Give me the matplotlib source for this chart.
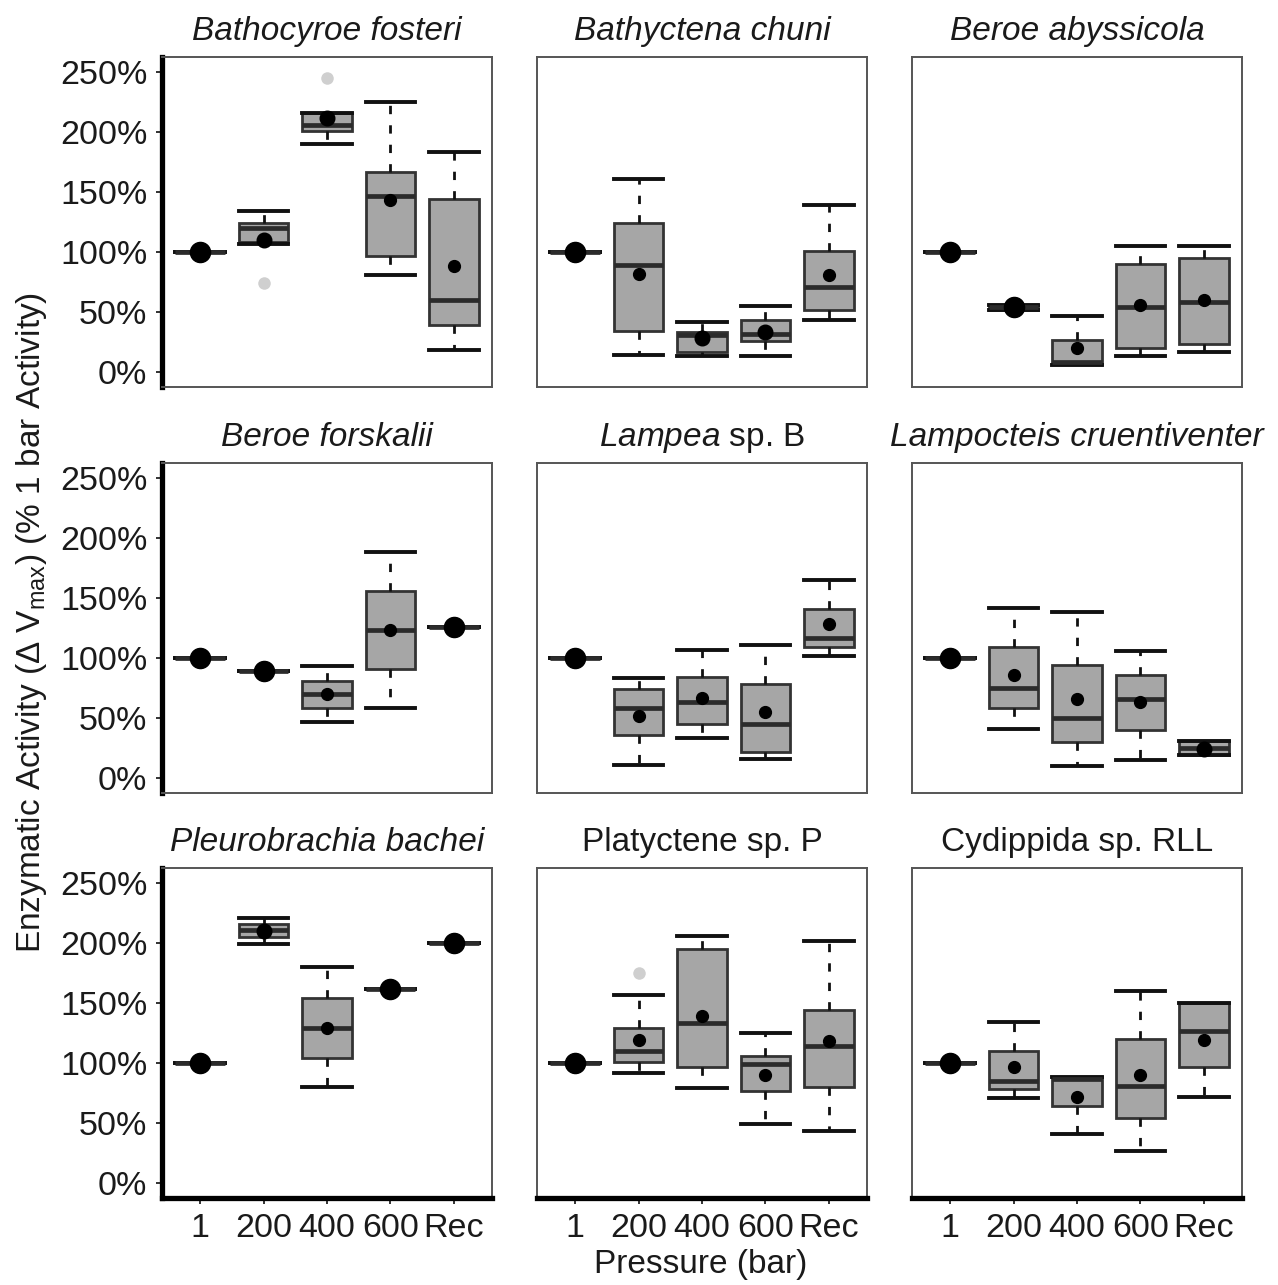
import matplotlib
matplotlib.use('Agg')
import matplotlib.pyplot as plt
from matplotlib.ticker import FuncFormatter

plt.rcParams['font.family'] = ['Liberation Sans', 'DejaVu Sans']
plt.rcParams['mathtext.fontset'] = 'custom'
plt.rcParams['mathtext.rm'] = 'Liberation Sans'
plt.rcParams['mathtext.it'] = 'Liberation Sans:italic'
plt.rcParams['mathtext.default'] = 'regular'

# ---------------- data ----------------
species = ['Bathocyroe fosteri', 'Bathyctena chuni', 'Beroe abyssicola',
           'Beroe forskalii', r'$\mathit{Lampea}$ sp. B', 'Lampocteis cruentiventer',
           'Pleurobrachia bachei', 'Platyctene sp. P', 'Cydippida sp. RLL']
italic = [True, True, True, True, False, True, True, False, False]
pressures = ['1', '200', '400', '600', 'Rec']

whislo = [[100, 107, 190, 81, 18],
          [100, 14, 13, 13, 43],
          [100, 52, 6, 13, 17],
          [100, 89, 47, 58, 126],
          [100, 11, 33, 16, 102],
          [100, 41, 10, 15, 19],
          [100, 199, 80, 162, 200],
          [100, 92, 79, 49, 43],
          [100, 71, 41, 27, 72]]
q1 = [[100, 108, 201, 97, 39],
      [100, 34, 17, 26, 52],
      [100, 52, 7, 20, 23],
      [100, 89, 58, 91, 126],
      [100, 36, 45, 22, 109],
      [100, 58, 30, 40, 19],
      [100, 205, 104, 162, 200],
      [100, 101, 97, 77, 80],
      [100, 78, 64, 54, 97]]
med = [[100, 120, 206, 147, 60],
       [100, 89, 31, 32, 71],
       [100, 54, 8, 54, 58],
       [100, 89, 70, 123, 126],
       [100, 58, 63, 45, 117],
       [100, 75, 50, 66, 25],
       [100, 211, 129, 162, 200],
       [100, 110, 133, 99, 114],
       [100, 85, 87, 81, 127]]
q3 = [[100, 124, 216, 167, 144],
      [100, 124, 33, 43, 101],
      [100, 56, 27, 90, 95],
      [100, 89, 81, 156, 126],
      [100, 74, 84, 78, 141],
      [100, 109, 94, 86, 31],
      [100, 216, 154, 162, 200],
      [100, 129, 195, 106, 144],
      [100, 110, 88, 120, 150]]
whishi = [[100, 134, 216, 225, 183],
          [100, 161, 42, 55, 139],
          [100, 56, 47, 105, 105],
          [100, 89, 93, 188, 126],
          [100, 83, 107, 111, 165],
          [100, 142, 138, 106, 31],
          [100, 221, 180, 162, 200],
          [100, 157, 206, 125, 202],
          [100, 134, 88, 160, 150]]
means = [[100, 110, 212, 143, 88],
         [100, 82, 28, 33, 81],
         [100, 54, 20, 56, 60],
         [100, 89, 70, 123, 126],
         [100, 52, 67, 55, 128],
         [100, 86, 66, 63, 24],
         [100, 210, 129, 162, 200],
         [100, 119, 139, 90, 118],
         [100, 97, 72, 90, 119]]
outliers = [[[], [74], [245], [], []],
            [[], [], [], [], []],
            [[], [], [], [], []],
            [[], [], [], [], []],
            [[], [], [], [], []],
            [[], [], [], [], []],
            [[], [], [], [], []],
            [[], [175], [], [], []],
            [[], [], [], [], []]]
yticks = [0, 50, 100, 150, 200, 250]

# ---------------- layout ----------------
W, H = 1278, 1285
fig = plt.figure(figsize=(W / 100, H / 100), dpi=100)
col_x = [162, 537, 912]
row_y = [57, 463, 868]
pw, ph = 330, 330

for i, sp in enumerate(species):
    r, c = divmod(i, 3)
    ax = fig.add_axes([col_x[c] / W, 1 - (row_y[r] + ph) / H, pw / W, ph / H])
    pos = list(range(1, len(pressures) + 1))
    stats = []
    for j in range(len(pressures)):
        stats.append(dict(whislo=whislo[i][j], q1=q1[i][j], med=med[i][j],
                          q3=q3[i][j], whishi=whishi[i][j], fliers=outliers[i][j]))
    ax.bxp(stats, positions=pos, widths=0.78, capwidths=0.78, patch_artist=True,
           showmeans=False,
           boxprops=dict(facecolor='#a6a6a6', edgecolor='#333333', linewidth=2.0),
           medianprops=dict(color='#2b2b2b', linewidth=3.4),
           whiskerprops=dict(color='#111111', linewidth=2.0, linestyle=(0, (3, 4))),
           capprops=dict(color='#111111', linewidth=2.8),
           flierprops=dict(marker='o', markerfacecolor='#cfcfcf',
                           markeredgecolor='none', markersize=9))
    for j, p in enumerate(pos):
        iqr = q3[i][j] - q1[i][j]
        ms = 14.5 if iqr < 5 else (10.5 if iqr < 20 else 8.5)
        ax.plot([p], [means[i][j]], 'o', color='black', markersize=ms, zorder=6)

    ax.set_xlim(0.4, 5.6)
    ax.set_ylim(-12.5, 262.5)
    ax.set_yticks(yticks)
    ax.set_xticks(pos)
    ax.set_xticklabels(pressures)
    ax.yaxis.set_major_formatter(FuncFormatter(lambda v, p: f'{v:.0f}%'))
    for s in ax.spines.values():
        s.set_color('#555555')
        s.set_linewidth(1.4)
    if c == 0:
        ax.spines['left'].set_color('black')
        ax.spines['left'].set_linewidth(3.8)
        ax.tick_params(axis='y', length=4.5, width=1.4, color='#333333',
                       labelsize=24.5, labelcolor='#1a1a1a', pad=6)
    else:
        ax.tick_params(axis='y', length=0, labelleft=False)
    if r == 2:
        ax.spines['bottom'].set_color('black')
        ax.spines['bottom'].set_linewidth(3.8)
        ax.tick_params(axis='x', length=4.5, width=1.4, color='#333333',
                       labelsize=24.5, labelcolor='#1a1a1a', pad=6)
    else:
        ax.tick_params(axis='x', length=0, labelbottom=False)

    ax.text(0.5, 1 + 17 / ph, sp, transform=ax.transAxes, ha='center', va='baseline',
            fontsize=24, color='#1a1a1a', fontstyle='italic' if italic[i] else 'normal')

fig.text(32 / W, 1 - 622 / H,
         r'Enzymatic Activity (Δ V$_{max}$) (% 1 bar Activity)',
         rotation=90, ha='center', va='center', fontsize=24, color='#1a1a1a')
fig.text(701 / W, 1 - 1265 / H, 'Pressure (bar)', ha='center', va='center',
         fontsize=24, color='#1a1a1a')

fig.savefig('out.png', dpi=100, facecolor='white')
